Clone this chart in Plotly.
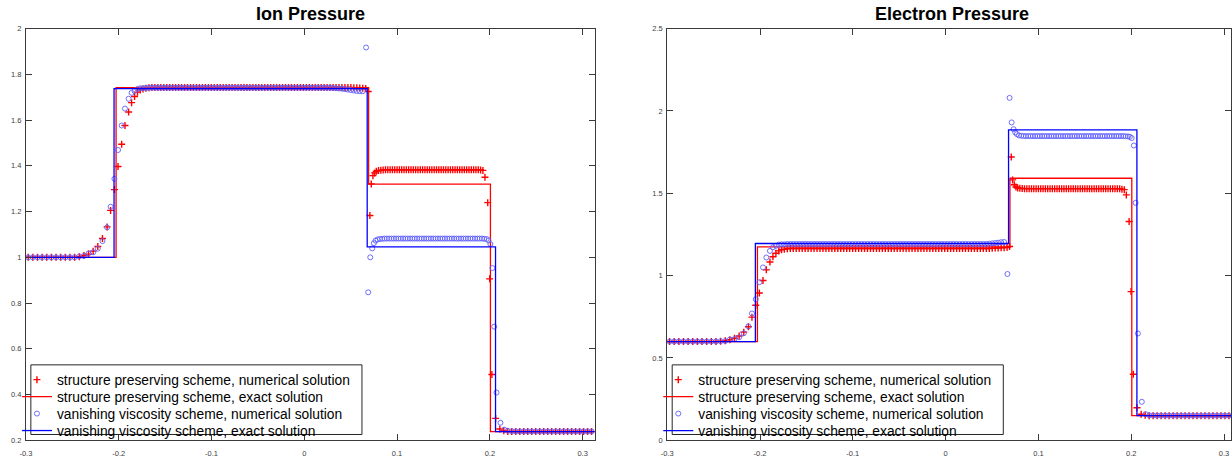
import plotly.graph_objects as go

W, H = 1232, 464

# ---------------- data ----------------
# mesh points, shared by both pressures of the same scheme
x_left = [-0.2975, -0.2925, -0.2875, -0.2825, -0.2775, -0.2725, -0.2675, -0.2625, -0.2575, -0.2525,
          -0.2475, -0.2425, -0.2375, -0.2325, -0.2275, -0.2225, -0.2175, -0.2125, -0.2087, -0.2046,
          -0.2007, -0.1968, -0.1932, -0.1893, -0.1861, -0.1829, -0.1797, -0.1768]

x_top = [-0.1738, -0.1706, -0.1674, -0.1642, -0.1610, -0.1578, -0.1546, -0.1514, -0.1482, -0.1450,
         -0.1418, -0.1386, -0.1354, -0.1322, -0.1290, -0.1258, -0.1226, -0.1194, -0.1162, -0.1130,
         -0.1098, -0.1066, -0.1034, -0.1002, -0.0970, -0.0938, -0.0906, -0.0874, -0.0842, -0.0810,
         -0.0778, -0.0746, -0.0714, -0.0682, -0.0650, -0.0618, -0.0586, -0.0554, -0.0522, -0.0490,
         -0.0458, -0.0426, -0.0394, -0.0362, -0.0330, -0.0298, -0.0266, -0.0234, -0.0202, -0.0170,
         -0.0138, -0.0106, -0.0074, -0.0042, -0.0010, 0.0022, 0.0054, 0.0086, 0.0118, 0.0150,
         0.0182, 0.0214, 0.0246, 0.0278, 0.0310, 0.0342, 0.0374, 0.0406, 0.0438, 0.0470,
         0.0502, 0.0534, 0.0566, 0.0598, 0.0630]

x_sp_mid = [0.0662, 0.0689, 0.0707, 0.0722, 0.0740, 0.0758, 0.0776,
            0.0800, 0.0825, 0.0850, 0.0875, 0.0900, 0.0925, 0.0950, 0.0975, 0.1000, 0.1025,
            0.1050, 0.1075, 0.1100, 0.1125, 0.1150, 0.1175, 0.1200, 0.1225, 0.1250, 0.1275,
            0.1300, 0.1325, 0.1350, 0.1375, 0.1400, 0.1425, 0.1450, 0.1475, 0.1500, 0.1525,
            0.1550, 0.1575, 0.1600, 0.1625, 0.1650, 0.1675, 0.1700, 0.1725, 0.1750, 0.1775,
            0.1800, 0.1825, 0.1850, 0.1875, 0.1900, 0.1925,
            0.1947, 0.1977, 0.1998, 0.2022, 0.2062, 0.2107, 0.2150]

x_vv_mid = [0.0666, 0.0689, 0.0711, 0.0732, 0.0750, 0.0768, 0.0790,
            0.0815, 0.0840, 0.0865, 0.0890, 0.0915, 0.0940, 0.0965, 0.0990, 0.1015, 0.1040,
            0.1065, 0.1090, 0.1115, 0.1140, 0.1165, 0.1190, 0.1215, 0.1240, 0.1265, 0.1290,
            0.1315, 0.1340, 0.1365, 0.1390, 0.1415, 0.1440, 0.1465, 0.1490, 0.1515, 0.1540,
            0.1565, 0.1590, 0.1615, 0.1640, 0.1665, 0.1690, 0.1715, 0.1740, 0.1765, 0.1790,
            0.1815, 0.1840, 0.1865, 0.1890, 0.1915, 0.1940, 0.1965,
            0.1985, 0.2005, 0.2028, 0.2047, 0.2072, 0.2114, 0.2154]

x_right = [0.2193, 0.2236, 0.2279, 0.2322, 0.2365, 0.2408, 0.2451, 0.2494, 0.2537, 0.2580,
           0.2623, 0.2666, 0.2709, 0.2752, 0.2795, 0.2838, 0.2881, 0.2924, 0.2967, 0.3010,
           0.3053, 0.3096]

# ---- Ion pressure, structure preserving scheme (numerical) ----
ion_sp_left = [1.0, 1.0, 1.0, 1.0, 1.0, 1.0, 1.0, 1.0, 1.0, 1.0,
               1.0, 1.003, 1.008, 1.014, 1.027, 1.047, 1.082, 1.133, 1.205, 1.296,
               1.397, 1.494, 1.576, 1.635, 1.676, 1.703, 1.722, 1.731]
ion_sp_top = [1.736, 1.739, 1.741, 1.742, 1.742, 1.742, 1.742, 1.742, 1.742, 1.742,
              1.742, 1.742, 1.742, 1.742, 1.742, 1.742, 1.742, 1.742, 1.742, 1.742,
              1.742, 1.742, 1.742, 1.742, 1.742, 1.742, 1.742, 1.742, 1.742, 1.742,
              1.742, 1.742, 1.742, 1.742, 1.742, 1.742, 1.742, 1.742, 1.742, 1.742,
              1.742, 1.742, 1.742, 1.742, 1.742, 1.742, 1.742, 1.742, 1.742, 1.742,
              1.742, 1.742, 1.742, 1.742, 1.742, 1.742, 1.742, 1.742, 1.742, 1.742,
              1.742, 1.742, 1.742, 1.742, 1.742, 1.742, 1.742, 1.742, 1.742, 1.742,
              1.742, 1.741, 1.741, 1.740, 1.739]
ion_sp_mid = [1.738, 1.725, 1.183, 1.321, 1.357, 1.369, 1.376,
              1.379, 1.381, 1.382, 1.383, 1.383, 1.383, 1.383, 1.383, 1.383, 1.383,
              1.383, 1.383, 1.383, 1.383, 1.383, 1.383, 1.383, 1.383, 1.383, 1.383,
              1.383, 1.383, 1.383, 1.383, 1.383, 1.383, 1.383, 1.383, 1.383, 1.383,
              1.383, 1.383, 1.383, 1.383, 1.383, 1.383, 1.383, 1.383, 1.383, 1.383,
              1.383, 1.383, 1.383, 1.383, 1.382, 1.380,
              1.35, 1.239, 0.906, 0.488, 0.296, 0.25, 0.242]
ion_sp_right = [0.239, 0.239, 0.239, 0.239, 0.239, 0.239, 0.239, 0.239, 0.239, 0.239,
                0.239, 0.239, 0.239, 0.239, 0.239, 0.239, 0.239, 0.239, 0.239, 0.239,
                0.239, 0.239]

# ---- Ion pressure, vanishing viscosity scheme (numerical) ----
ion_vv_left = [1.0, 1.0, 1.0, 1.0, 1.0, 1.0, 1.0, 1.0, 1.0, 1.0,
               1.0, 1.004, 1.006, 1.017, 1.022, 1.038, 1.071, 1.131, 1.221, 1.343,
               1.469, 1.576, 1.650, 1.693, 1.719, 1.727, 1.736, 1.739]
ion_vv_top = [1.739, 1.740, 1.741, 1.741, 1.741, 1.741, 1.741, 1.741, 1.741, 1.741,
              1.741, 1.741, 1.741, 1.741, 1.741, 1.741, 1.741, 1.741, 1.741, 1.741,
              1.741, 1.741, 1.741, 1.741, 1.741, 1.741, 1.741, 1.741, 1.741, 1.741,
              1.741, 1.741, 1.741, 1.741, 1.741, 1.741, 1.741, 1.741, 1.741, 1.741,
              1.741, 1.741, 1.741, 1.741, 1.741, 1.741, 1.741, 1.741, 1.741, 1.741,
              1.741, 1.741, 1.741, 1.741, 1.741, 1.741, 1.741, 1.741, 1.741, 1.741,
              1.741, 1.741, 1.741, 1.741, 1.740, 1.739, 1.738, 1.737, 1.735, 1.733,
              1.731, 1.729, 1.727, 1.726, 1.726]
ion_vv_mid = [1.917, 0.847, 1.0, 1.039, 1.062, 1.073, 1.078,
              1.080, 1.081, 1.082, 1.082, 1.082, 1.082, 1.082, 1.082, 1.082, 1.082,
              1.082, 1.082, 1.082, 1.082, 1.082, 1.082, 1.082, 1.082, 1.082, 1.082,
              1.082, 1.082, 1.082, 1.082, 1.082, 1.082, 1.082, 1.082, 1.082, 1.082,
              1.082, 1.082, 1.082, 1.082, 1.082, 1.082, 1.082, 1.082, 1.082, 1.082,
              1.082, 1.082, 1.082, 1.082, 1.082, 1.081, 1.080,
              1.074, 1.058, 0.953, 0.697, 0.409, 0.277, 0.247]
ion_vv_right = [0.242, 0.240, 0.239, 0.239, 0.239, 0.239, 0.239, 0.239, 0.239, 0.239,
                0.239, 0.239, 0.239, 0.239, 0.239, 0.239, 0.239, 0.239, 0.239, 0.239,
                0.239, 0.239]

# ---- Electron pressure, structure preserving scheme (numerical) ----
el_sp_left = [0.6, 0.6, 0.6, 0.6, 0.6, 0.6, 0.6, 0.6, 0.6, 0.6,
              0.6, 0.602, 0.605, 0.611, 0.620, 0.634, 0.657, 0.690, 0.748, 0.820,
              0.895, 0.970, 1.035, 1.083, 1.115, 1.136, 1.150, 1.157]
el_sp_top = [1.160, 1.163, 1.165, 1.165, 1.165, 1.165, 1.165, 1.165, 1.165, 1.165,
             1.165, 1.165, 1.165, 1.165, 1.165, 1.165, 1.165, 1.165, 1.165, 1.165,
             1.165, 1.165, 1.165, 1.165, 1.165, 1.165, 1.165, 1.165, 1.165, 1.165,
             1.165, 1.165, 1.165, 1.165, 1.165, 1.165, 1.165, 1.165, 1.165, 1.165,
             1.165, 1.165, 1.165, 1.165, 1.165, 1.165, 1.165, 1.165, 1.165, 1.165,
             1.165, 1.165, 1.165, 1.165, 1.165, 1.165, 1.165, 1.165, 1.165, 1.165,
             1.165, 1.165, 1.165, 1.165, 1.165, 1.165, 1.165, 1.165, 1.165, 1.165,
             1.166, 1.167, 1.168, 1.169, 1.170]
el_sp_mid = [1.171, 1.177, 1.720, 1.581, 1.552, 1.538, 1.532,
             1.530, 1.529, 1.528, 1.528, 1.528, 1.528, 1.528, 1.528, 1.528, 1.528,
             1.528, 1.528, 1.528, 1.528, 1.528, 1.528, 1.528, 1.528, 1.528, 1.528,
             1.528, 1.528, 1.528, 1.528, 1.528, 1.528, 1.528, 1.528, 1.528, 1.528,
             1.528, 1.528, 1.528, 1.528, 1.528, 1.528, 1.528, 1.528, 1.528, 1.528,
             1.528, 1.528, 1.528, 1.527, 1.525, 1.522,
             1.49, 1.329, 0.903, 0.401, 0.198, 0.159, 0.152]
el_sp_right = [0.150, 0.150, 0.150, 0.150, 0.150, 0.150, 0.150, 0.150, 0.150, 0.150,
               0.150, 0.150, 0.150, 0.150, 0.150, 0.150, 0.150, 0.150, 0.150, 0.150,
               0.150, 0.150]

# ---- Electron pressure, vanishing viscosity scheme (numerical) ----
el_vv_left = [0.6, 0.6, 0.6, 0.6, 0.6, 0.6, 0.6, 0.6, 0.6, 0.6,
              0.6, 0.602, 0.603, 0.612, 0.615, 0.626, 0.650, 0.692, 0.770, 0.857,
              0.960, 1.050, 1.110, 1.150, 1.172, 1.181, 1.188, 1.190]
el_vv_top = [1.190, 1.192, 1.192, 1.192, 1.192, 1.192, 1.192, 1.192, 1.192, 1.192,
             1.192, 1.192, 1.192, 1.192, 1.192, 1.192, 1.192, 1.192, 1.192, 1.192,
             1.192, 1.192, 1.192, 1.192, 1.192, 1.192, 1.192, 1.192, 1.192, 1.192,
             1.192, 1.192, 1.192, 1.192, 1.192, 1.192, 1.192, 1.192, 1.192, 1.192,
             1.192, 1.192, 1.192, 1.192, 1.192, 1.192, 1.192, 1.192, 1.192, 1.192,
             1.192, 1.192, 1.192, 1.192, 1.192, 1.192, 1.192, 1.192, 1.192, 1.192,
             1.192, 1.192, 1.192, 1.192, 1.192, 1.192, 1.192, 1.192, 1.192, 1.194,
             1.196, 1.198, 1.200, 1.203, 1.204]
el_vv_mid = [1.010, 2.079, 1.930, 1.889, 1.869, 1.859, 1.851,
             1.849, 1.848, 1.847, 1.847, 1.847, 1.847, 1.847, 1.847, 1.847, 1.847,
             1.847, 1.847, 1.847, 1.847, 1.847, 1.847, 1.847, 1.847, 1.847, 1.847,
             1.847, 1.847, 1.847, 1.847, 1.847, 1.847, 1.847, 1.847, 1.847, 1.847,
             1.847, 1.847, 1.847, 1.847, 1.847, 1.847, 1.847, 1.847, 1.847, 1.847,
             1.847, 1.847, 1.847, 1.847, 1.847, 1.846, 1.845,
             1.843, 1.835, 1.790, 1.442, 0.649, 0.234, 0.159]
el_vv_right = [0.152, 0.151, 0.150, 0.150, 0.150, 0.150, 0.150, 0.150, 0.150, 0.150,
               0.150, 0.150, 0.150, 0.150, 0.150, 0.150, 0.150, 0.150, 0.150, 0.150,
               0.150, 0.150]

# ---- exact (piecewise constant) solutions: breakpoints and levels ----
sp_exact_x = [-0.3, -0.2028, 0.0693, 0.2006, 0.3129]
vv_exact_x = [-0.3, -0.2050, 0.0678, 0.2061, 0.3129]
ion_sp_exact = [1.0, 1.742, 1.320, 0.238, 0.238]
ion_vv_exact = [1.0, 1.737, 1.046, 0.238, 0.238]
el_sp_exact = [0.6, 1.175, 1.591, 0.150, 0.150]
el_vv_exact = [0.6, 1.195, 1.885, 0.150, 0.150]

# ---- ticks ----
x_ticks = [-0.3, -0.2, -0.1, 0, 0.1, 0.2, 0.3]
x_tick_labels = ["-0.3", "-0.2", "-0.1", "0", "0.1", "0.2", "0.3"]
ion_y_ticks = [0.2, 0.4, 0.6, 0.8, 1.0, 1.2, 1.4, 1.6, 1.8, 2.0]
ion_y_labels = ["0.2", "0.4", "0.6", "0.8", "1", "1.2", "1.4", "1.6", "1.8", "2"]
el_y_ticks = [0, 0.5, 1.0, 1.5, 2.0, 2.5]
el_y_labels = ["0", "0.5", "1", "1.5", "2", "2.5"]

titles = ["Ion Pressure", "Electron Pressure"]
legend_names = ["structure preserving scheme, numerical solution",
                "structure preserving scheme, exact solution",
                "vanishing viscosity scheme, numerical solution",
                "vanishing viscosity scheme, exact solution"]

# ---------------- assemble ----------------
x_sp = x_left + x_top + x_sp_mid + x_right
x_vv = x_left + x_top + x_vv_mid + x_right
ion_sp = ion_sp_left + ion_sp_top + ion_sp_mid + ion_sp_right
ion_vv = ion_vv_left + ion_vv_top + ion_vv_mid + ion_vv_right
el_sp = el_sp_left + el_sp_top + el_sp_mid + el_sp_right
el_vv = el_vv_left + el_vv_top + el_vv_mid + el_vv_right
assert len(x_sp) == len(ion_sp) == len(el_sp), (len(x_sp), len(ion_sp), len(el_sp))
assert len(x_vv) == len(ion_vv) == len(el_vv), (len(x_vv), len(ion_vv), len(el_vv))

RED = "#ff0000"
BLUE = "#0000ff"
CIRC = "rgb(95,95,255)"
FONT = "Liberation Sans, Arial, Helvetica, sans-serif"

fig = go.Figure()

# one legend per row so that rows can sit 17 px apart, as in the reference
row_top = [367.3, 384.6, 401.9, 419.2]
panels = [
    dict(xa="x", ya="y", legs=["legend", "legend2", "legend3", "legend4"], lx=11,
         sp=ion_sp, vv=ion_vv, spe=ion_sp_exact, vve=ion_vv_exact),
    dict(xa="x2", ya="y2", legs=["legend5", "legend6", "legend7", "legend8"], lx=656,
         sp=el_sp, vv=el_vv, spe=el_sp_exact, vve=el_vv_exact),
]
legend_layouts = {}
for p in panels:
    L = p["legs"]
    fig.add_trace(go.Scatter(x=x_sp, y=p["sp"], mode="markers", name=legend_names[0],
                             marker=dict(symbol="cross-thin", size=5, line=dict(color=RED, width=1.4)),
                             xaxis=p["xa"], yaxis=p["ya"], legend=L[0]))
    fig.add_trace(go.Scatter(x=sp_exact_x, y=p["spe"], mode="lines", name=legend_names[1],
                             line=dict(color=RED, width=1.3, shape="hv"),
                             xaxis=p["xa"], yaxis=p["ya"], legend=L[1]))
    fig.add_trace(go.Scatter(x=x_vv, y=p["vv"], mode="markers", name=legend_names[2],
                             marker=dict(symbol="circle-open", size=5, color=CIRC, line=dict(color=CIRC, width=0.9)),
                             xaxis=p["xa"], yaxis=p["ya"], legend=L[2]))
    fig.add_trace(go.Scatter(x=vv_exact_x, y=p["vve"], mode="lines", name=legend_names[3],
                             line=dict(color=BLUE, width=1.3, shape="hv"),
                             xaxis=p["xa"], yaxis=p["ya"], legend=L[3]))
    for name, ry in zip(L, row_top):
        legend_layouts[name] = dict(x=p["lx"] / W, y=1 - ry / H, xanchor="left", yanchor="top",
                                    bgcolor="rgba(0,0,0,0)", borderwidth=0,
                                    font=dict(family=FONT, size=13.8, color="black"))

y_dom = [19 / H, 439 / H]
axis_common = dict(showgrid=False, zeroline=False, showline=True, mirror="ticks",
                   linecolor="#3a3a3a", linewidth=1, ticks="inside", ticklen=6,
                   tickcolor="#3a3a3a", tickwidth=1,
                   tickfont=dict(family=FONT, size=7.5, color="#404040"))
x_extra = dict(ticklabelstandoff=6)
y_extra = dict(ticklabelstandoff=2)

fig.update_layout(
    width=W, height=H,
    margin=dict(l=0, r=0, t=0, b=0),
    paper_bgcolor="white", plot_bgcolor="white",
    xaxis=dict(domain=[20 / W, 592 / W], range=[-0.3, 0.3129], anchor="y",
               tickvals=x_ticks, ticktext=x_tick_labels, **axis_common, **x_extra),
    yaxis=dict(domain=y_dom, range=[0.2, 2.0], anchor="x",
               tickvals=ion_y_ticks, ticktext=ion_y_labels, **axis_common, **y_extra),
    xaxis2=dict(domain=[665 / W, 1.0], range=[-0.3, 0.3075], anchor="y2",
                tickvals=x_ticks, ticktext=x_tick_labels, **axis_common, **x_extra),
    yaxis2=dict(domain=y_dom, range=[0.0, 2.5], anchor="x2",
                tickvals=el_y_ticks, ticktext=el_y_labels, **axis_common, **y_extra),
    showlegend=True,
    **legend_layouts,
)

# legend frames
for x0, x1 in [(25, 358), (670, 1003)]:
    fig.add_shape(type="rect", xref="paper", yref="paper",
                  x0=x0 / W, x1=x1 / W, y0=1 - 439 / H, y1=1 - 368 / H,
                  line=dict(color="#262626", width=1), fillcolor="white", layer="above")

# titles
for t, cx in zip(titles, [306, 951]):
    fig.add_annotation(text="<b>" + t + "</b>", xref="paper", yref="paper",
                       x=cx / W, y=1 - 10 / H, xanchor="center", yanchor="middle",
                       showarrow=False, font=dict(family=FONT, size=18, color="black"))

fig.write_html("out.html")
